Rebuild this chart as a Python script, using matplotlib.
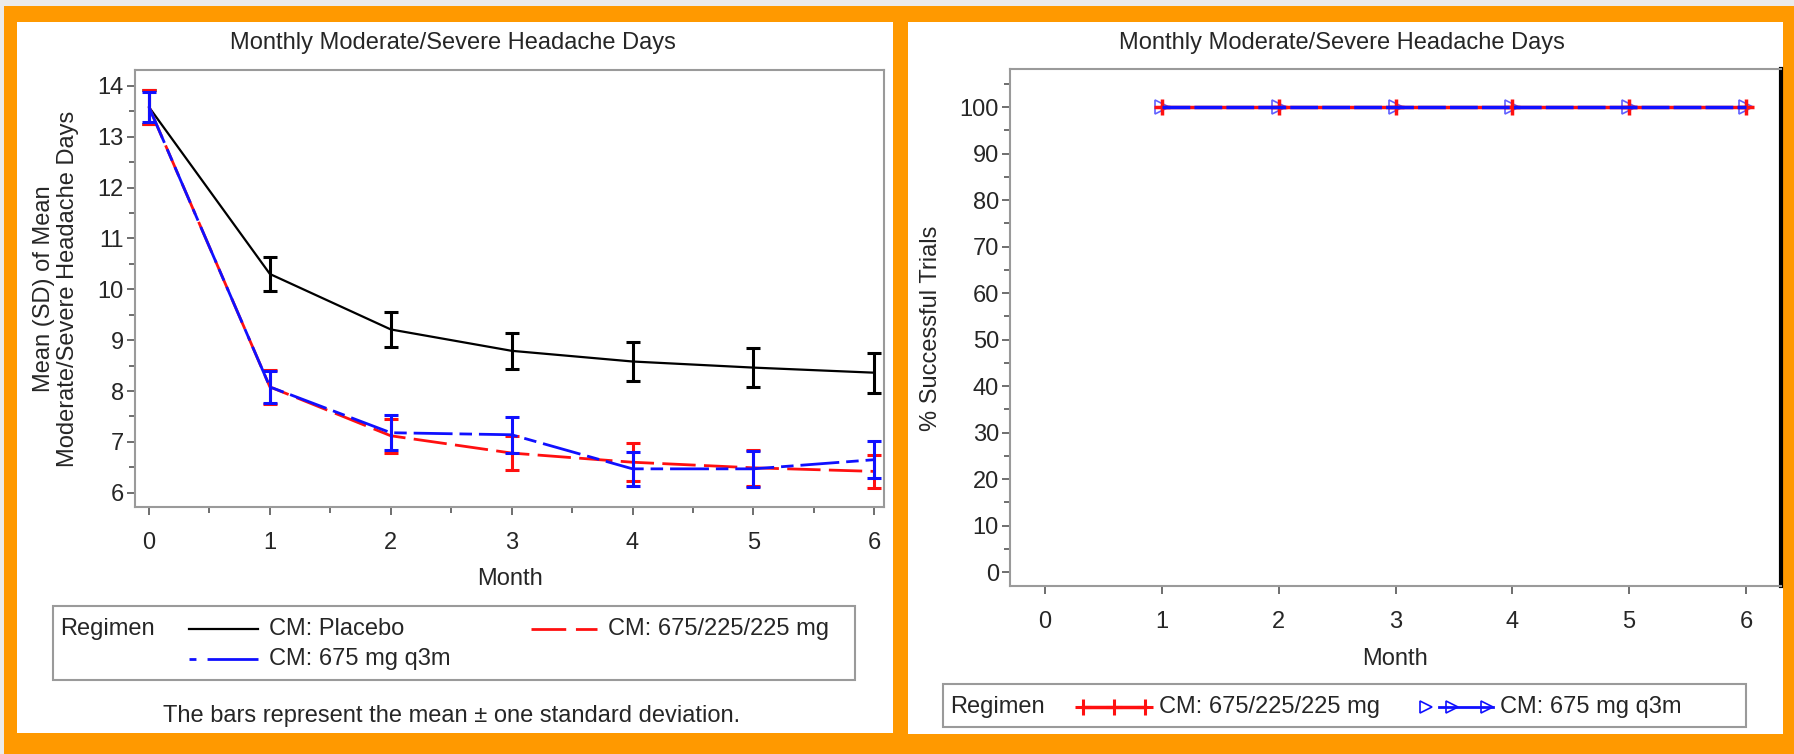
import matplotlib
matplotlib.use("Agg")
import matplotlib.pyplot as plt
from matplotlib.lines import Line2D
from matplotlib.patches import Rectangle
from matplotlib.ticker import MultipleLocator

# ---------------- data ----------------
months = [0, 1, 2, 3, 4, 5, 6]
placebo_mean = [13.58, 10.30, 9.21, 8.79, 8.58, 8.46, 8.36]
placebo_sd = [0.33, 0.33, 0.35, 0.36, 0.38, 0.39, 0.39]
monthly_mean = [13.58, 8.08, 7.12, 6.78, 6.60, 6.49, 6.42]
monthly_sd = [0.34, 0.34, 0.33, 0.33, 0.37, 0.36, 0.33]
q3m_mean = [13.58, 8.08, 7.18, 7.14, 6.47, 6.47, 6.65]
q3m_sd = [0.30, 0.31, 0.34, 0.35, 0.34, 0.36, 0.36]

trial_months = [1, 2, 3, 4, 5, 6]
success_monthly = [100, 100, 100, 100, 100, 100]
success_q3m = [100, 100, 100, 100, 100, 100]

left_yticks = [6, 7, 8, 9, 10, 11, 12, 13, 14]
right_yticks = [0, 10, 20, 30, 40, 50, 60, 70, 80, 90, 100]
xticks = [0, 1, 2, 3, 4, 5, 6]

title = "Monthly Moderate/Severe Headache Days"
lbl_placebo = "CM: Placebo"
lbl_monthly = "CM: 675/225/225 mg"
lbl_q3m = "CM: 675 mg q3m"

# ---------------- style ----------------
plt.rcParams['font.family'] = ['Liberation Sans', 'DejaVu Sans']
plt.rcParams['lines.scale_dashes'] = False
FS = 17
TXT = '#262626'
FRAME = '#9a9a9a'
ORANGE = '#FF9900'
RED = '#FF1010'
BLUE = '#1010FF'

W, H = 1794, 754
fig = plt.figure(figsize=(W / 100, H / 100), dpi=100)
fig.patch.set_facecolor(ORANGE)


def fx(x):
    return x / W


def fy(y):
    return 1 - y / H


def rect(x0, y0, x1, y1, z=-5, **kw):
    fig.patches.append(Rectangle((fx(x0), fy(y1)), fx(x1) - fx(x0), fy(y0) - fy(y1),
                                 transform=fig.transFigure, figure=fig, zorder=z, **kw))


# background strips and white panels
rect(0, 0, W, 6, facecolor='#ebebeb', edgecolor='none')
rect(0, 0, 4, H, facecolor='#ebebeb', edgecolor='none')
rect(17, 22, 893, 733, facecolor='white', edgecolor='none')
rect(908, 22, 1783, 734, facecolor='white', edgecolor='none')

RED_DASH = (0, (24, 6))
BLUE_DASH = (0, (28, 5, 9, 5))


def style_axes(ax):
    for s in ax.spines.values():
        s.set_color(FRAME)
        s.set_linewidth(1.5)
    ax.tick_params(which='both', direction='out', color='#555555', width=1.2,
                   labelsize=FS, labelcolor=TXT)
    ax.tick_params(which='major', length=6)
    ax.tick_params(which='minor', length=4)
    ax.tick_params(axis='y', pad=2)
    ax.tick_params(axis='x', pad=12)
    ax.set_facecolor('white')


# ---------------- left panel ----------------
axL = fig.add_axes([fx(135), fy(507), fx(884) - fx(135), fy(70) - fy(507)])
style_axes(axL)
axL.set_xlim(-0.116, 6.08)
axL.set_ylim(5.72, 14.31)
axL.set_xticks(xticks)
axL.set_yticks(left_yticks)
axL.xaxis.set_minor_locator(MultipleLocator(0.5))
axL.yaxis.set_minor_locator(MultipleLocator(0.5))

axL.errorbar(months, placebo_mean, yerr=placebo_sd, color='black', lw=1.6,
             elinewidth=2.2, capsize=5, capthick=2.2, zorder=3)
axL.errorbar(months, monthly_mean, yerr=monthly_sd, color=RED, lw=2.0,
             linestyle=RED_DASH, elinewidth=2.2, capsize=5, capthick=2.2, zorder=4)
axL.errorbar(months, q3m_mean, yerr=q3m_sd, color=BLUE, lw=2.0,
             linestyle=BLUE_DASH, elinewidth=2.2, capsize=5, capthick=2.2, zorder=5)

fig.text(fx(453), fy(43), title, ha='center', va='center', fontsize=FS, color=TXT)
fig.text(fx(56), fy(289), "Mean (SD) of Mean\nModerate/Severe Headache Days",
         rotation=90, ha='center', va='center', fontsize=FS, color=TXT, linespacing=1.15)
fig.text(fx(510), fy(579), "Month", ha='center', va='center', fontsize=FS, color=TXT)

# left legend
rect(53, 606, 855, 680, z=2, facecolor='none', edgecolor=FRAME, linewidth=1.5)
fig.text(fx(60), fy(629), "Regimen", ha='left', va='center', fontsize=FS, color=TXT)
fig.lines.append(Line2D([fx(189), fx(258)], [fy(629), fy(629)], color='black', lw=1.6,
                        transform=fig.transFigure))
fig.text(fx(269), fy(629), lbl_placebo, ha='left', va='center', fontsize=FS, color=TXT)
fig.lines.append(Line2D([fx(531), fx(597)], [fy(629), fy(629)], color=RED, lw=2.0,
                        linestyle=(0, (25, 7)), transform=fig.transFigure))
fig.text(fx(608), fy(629), lbl_monthly, ha='left', va='center', fontsize=FS, color=TXT)
fig.lines.append(Line2D([fx(189), fx(258)], [fy(659), fy(659)], color=BLUE, lw=2.0,
                        linestyle=(0, (5, 8, 40, 8)), transform=fig.transFigure))
fig.text(fx(269), fy(659), lbl_q3m, ha='left', va='center', fontsize=FS, color=TXT)

fig.text(fx(452), fy(716), "The bars represent the mean \u00b1 one standard deviation.",
         ha='center', va='center', fontsize=FS, color=TXT)

# ---------------- right panel ----------------
axR = fig.add_axes([fx(1010), fy(586), fx(1781) - fx(1010), fy(69) - fy(586)])
style_axes(axR)
axR.spines['right'].set_color('black')
axR.spines['right'].set_linewidth(3)
axR.set_xlim(-0.3, 6.3)
axR.set_ylim(-3.0, 108.2)
axR.set_xticks(xticks)
axR.set_yticks(right_yticks)
axR.yaxis.set_minor_locator(MultipleLocator(5))

axR.plot(trial_months, success_monthly, color=RED, lw=2.5, marker='+', ms=11, mew=2.5,
         zorder=3, clip_on=False)
axR.plot(trial_months, success_q3m, color=BLUE, lw=2.5, linestyle=(0, (20, 3)), zorder=4,
         clip_on=False)
axR.plot(trial_months, success_q3m, linestyle='none', marker='>', ms=10, mew=1.2,
         markerfacecolor='none', markeredgecolor='#6060ff', zorder=2, clip_on=False)

fig.text(fx(1342), fy(43), title, ha='center', va='center', fontsize=FS, color=TXT)
fig.text(fx(931), fy(328), "% Successful Trials", rotation=90, ha='center', va='center',
         fontsize=FS, color=TXT)
fig.text(fx(1395), fy(659), "Month", ha='center', va='center', fontsize=FS, color=TXT)

# right legend
rect(943, 684, 1746, 727, z=2, facecolor='none', edgecolor=FRAME, linewidth=1.5)
fig.text(fx(950), fy(707), "Regimen", ha='left', va='center', fontsize=FS, color=TXT)
fig.lines.append(Line2D([fx(1083), fx(1114), fx(1145)], [fy(707)] * 3, color=RED, lw=2.5,
                        marker='+', ms=11, mew=2.2, transform=fig.transFigure))
fig.text(fx(1159), fy(707), lbl_monthly, ha='left', va='center', fontsize=FS, color=TXT)
fig.lines.append(Line2D([fx(1439), fx(1493)], [fy(707)] * 2, color=BLUE, lw=2.0,
                        transform=fig.transFigure))
fig.lines.append(Line2D([fx(1426), fx(1452), fx(1487)], [fy(707)] * 3, linestyle='none',
                        marker='>', ms=8, mew=1.2, markerfacecolor='none',
                        markeredgecolor=BLUE, transform=fig.transFigure))
fig.text(fx(1500), fy(707), lbl_q3m, ha='left', va='center', fontsize=FS, color=TXT)

fig.savefig("out.png", dpi=100, facecolor=fig.get_facecolor())
